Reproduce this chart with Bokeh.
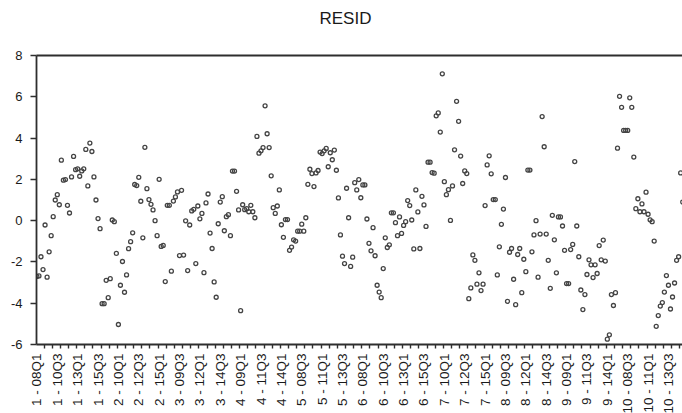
import math
from bokeh.plotting import figure
from bokeh.layouts import column
from bokeh.models import FixedTicker, LinearAxis, Range1d, ColumnDataSource
from bokeh.core.properties import value
from bokeh.embed import file_html
from bokeh.resources import INLINE

# Residuals by cross-section (id 1..10), quarterly 2008Q1..2015Q4
id1 = [-2.70, -2.68, -1.75, -2.37, -0.21, -2.74, -1.51, -0.73, 0.19, 1.00, 1.26, 0.77,
       2.93, 1.96, 1.99, 0.74, 0.37, 2.12, 3.11, 2.47, 2.51, 2.15, 2.41, 2.51,
       3.45, 1.68, 3.76, 3.35, 2.12, 1.00, 0.10, -0.39]
id2 = [-4.02, -4.02, -2.89, -3.73, -2.81, 0.03, -0.05, -1.59, -5.03, -3.13, -1.98, -3.47,
       -2.63, -1.36, -1.02, -0.59, 1.75, 1.70, 2.10, 0.94, -0.83, 3.55, 1.55, 1.02,
       0.79, 0.52, 0.00, -0.73, 2.00, -1.25, -1.20, -2.95]
id3 = [0.74, 0.74, -2.45, 0.95, 1.15, 1.39, -1.69, 1.47, -1.67, -0.01, -2.42, -0.21,
       0.47, 0.55, -2.08, 0.71, 0.09, 0.35, -2.52, 0.86, 1.29, -0.60, -1.35, -2.97,
       -3.71, -0.15, 0.90, 1.16, -0.49, 0.19, 0.29, -0.73]
id4 = [2.40, 2.40, 1.42, 0.52, -4.36, 0.77, 0.53, 0.58, 0.43, 0.74, 0.43, 0.14,
       4.08, 3.27, 3.38, 3.54, 5.56, 4.21, 3.54, 2.17, 0.63, 0.35, 0.71, 1.49,
       -0.20, -0.81, 0.05, 0.05, -1.44, -1.28, -0.93, -0.99]
id5 = [-0.51, -0.51, -0.17, -0.51, 0.14, 1.76, 2.49, 2.28, 1.65, 2.31, 2.43, 3.32,
       3.25, 3.38, 3.50, 2.61, 3.29, 2.95, 3.42, 2.44, 1.10, -0.69, -1.72, -2.08,
       1.57, 0.14, -2.22, -1.77, 1.84, 1.49, 1.99, 1.11]
id6 = [1.73, 1.73, 0.08, -1.10, -1.46, -0.34, -1.70, -3.13, -3.46, -3.73, -2.32, -0.83,
       -1.30, -1.17, 0.38, 0.38, -0.10, -0.73, 0.18, -0.62, -0.23, -0.05, 0.97, 0.73,
       0.03, -1.37, 1.49, 0.42, -1.35, 1.18, 0.76, -0.28]
id7 = [2.83, 2.83, 2.33, 2.30, 5.08, 5.22, 4.29, 7.11, 1.89, 1.26, 1.50, 0.01,
       1.68, 3.43, 5.78, 4.81, 3.13, 1.80, 2.41, 2.28, -3.78, -3.26, -1.66, -1.92,
       -3.08, -2.53, -3.39, -3.08, 0.73, 2.70, 3.14, 2.27]
id8 = [1.02, 1.02, -2.63, -1.27, -0.18, 0.56, 2.09, -3.91, -1.53, -1.35, -2.84, -4.07,
       -1.64, -1.35, -3.49, -1.87, -2.47, 2.45, 2.45, -1.51, -0.69, 0.00, -2.74, -0.65,
       5.04, 3.58, -0.65, -1.92, -3.28, 0.26, -0.93, -2.53]
id9 = [0.18, 0.18, -0.26, -1.44, -3.05, -3.05, -1.40, -1.15, 2.86, -0.26, -1.75, -3.36,
       -4.31, -3.58, -2.61, -1.90, -2.14, -2.76, -2.14, -2.56, -1.21, -1.90, -0.94, -1.96,
       -5.74, -5.53, -3.58, -4.11, -3.49, 3.51, 6.02, 5.49]
id10 = [4.37, 4.37, 4.37, 5.95, 5.49, 3.08, 0.58, 1.06, 0.43, 0.81, 0.43, 1.38,
        0.31, 0.04, -0.05, -0.99, -5.12, -4.60, -4.14, -3.97, -3.46, -2.66, -3.13, -4.28,
        -3.70, -3.02, -1.92, -1.75, 2.31, 0.90, -0.62]

tick_labels = ["1 - 08Q1", "1 - 10Q3", "1 - 13Q1", "1 - 15Q3", "2 - 10Q1", "2 - 12Q3",
               "2 - 15Q1", "3 - 09Q3", "3 - 12Q1", "3 - 14Q3", "4 - 09Q1", "4 - 11Q3",
               "4 - 14Q1", "5 - 08Q3", "5 - 11Q1", "5 - 13Q3", "6 - 08Q1", "6 - 10Q3",
               "6 - 13Q1", "6 - 15Q3", "7 - 10Q1", "7 - 12Q3", "7 - 15Q1", "8 - 09Q3",
               "8 - 12Q1", "8 - 14Q3", "9 - 09Q1", "9 - 11Q3", "9 - 14Q1", "10 - 08Q3",
               "10 - 11Q1", "10 - 13Q3"]
y_ticks = [-6, -4, -2, 0, 2, 4, 6, 8]

resid = id1 + id2 + id3 + id4 + id5 + id6 + id7 + id8 + id9 + id10
obs = list(range(len(resid)))
src = ColumnDataSource(dict(obs=obs, resid=resid))

FONT = "Liberation Sans"
AXC = "#2e2e2e"
TXT = "#1a1a1a"
W = 682
H_PLOT = 353
H_LAB = 413 - H_PLOT
LEFT = 36
X0, X1 = -0.2, 316.9

p = figure(width=W, height=H_PLOT, output_backend="svg", toolbar_location=None,
           x_range=Range1d(X0, X1), y_range=Range1d(-6, 8),
           min_border_left=LEFT, min_border_right=0, min_border_top=55,
           min_border_bottom=9)
p.outline_line_color = None
p.grid.visible = False
p.background_fill_color = "white"
p.border_fill_color = "white"

p.scatter("obs", "resid", source=src, marker="circle", size=4.0,
          fill_color=None, line_color="#444444", line_width=1.3)

label_pos = [10 * k for k in range(len(tick_labels))]
xa = p.xaxis[0]
xa.ticker = FixedTicker(ticks=label_pos, minor_ticks=[3.5 + 4 * k for k in range(80)])
xa.major_label_overrides = {pos: "" for pos in label_pos}
xa.major_label_text_font_size = "0px"
xa.major_label_standoff = 0
xa.major_tick_out = 0
xa.major_tick_in = 0
xa.minor_tick_out = 4
xa.minor_tick_in = 0
xa.minor_tick_line_color = AXC
xa.minor_tick_line_width = 1.4
xa.axis_line_color = AXC
xa.axis_line_width = 1.8

ya = p.yaxis[0]
ya.ticker = FixedTicker(ticks=y_ticks, minor_ticks=[])
ya.major_label_overrides = {v: str(v) for v in y_ticks}
ya.major_tick_out = 6
ya.major_tick_in = 0
ya.major_tick_line_color = AXC
ya.major_tick_line_width = 1.4
ya.minor_tick_out = 0
ya.minor_tick_in = 0
ya.axis_line_color = AXC
ya.axis_line_width = 1.8
ya.major_label_text_font = FONT
ya.major_label_text_font_size = "13px"
ya.major_label_text_color = TXT
ya.major_label_standoff = 8

# top frame line; its blank axis label only reserves room under the title
top = LinearAxis(ticker=FixedTicker(ticks=[], minor_ticks=[]),
                 axis_line_color=AXC, axis_line_width=1.8,
                 major_tick_out=0, major_tick_in=0, minor_tick_out=0, minor_tick_in=0,
                 major_label_standoff=0, major_label_text_font_size="0px",
                 axis_label=" ", axis_label_text_font_size="14px",
                 axis_label_standoff=4)
p.add_layout(top, "above")

p.title.text = "RESID"
p.title.align = "left"
p.title.offset = 283
p.title.text_font = FONT
p.title.text_font_size = "17px"
p.title.text_font_style = "normal"
p.title.text_color = TXT
p.title.standoff = 10

# strip beneath the plot holding the rotated observation labels
q = figure(width=W, height=H_LAB, output_backend="svg", toolbar_location=None,
           x_range=p.x_range, y_range=Range1d(-H_LAB, 0),
           x_axis_type=None, y_axis_type=None,
           min_border_left=0, min_border_right=0, min_border_top=0,
           min_border_bottom=0)
if "frame_align" in q.properties():
    # frame not aligned with the plot above: widen its range to keep the same scale
    q.frame_align = False
    x_per_px = (X1 - X0) / (W - LEFT)
    q.x_range = Range1d(X0 - LEFT * x_per_px, X1)
else:
    q.min_border_left = LEFT
q.outline_line_color = None
q.grid.visible = False
q.background_fill_color = "white"
q.border_fill_color = "white"
lab_src = ColumnDataSource(dict(x=label_pos, y=[0] * len(label_pos), text=tick_labels))
q.text(x="x", y="y", text="text", source=lab_src, angle=math.pi / 2,
       text_align="right", text_baseline="middle",
       text_font=value(FONT), text_font_size=value("13.5px"), text_color=TXT)

layout = column(p, q, spacing=0)
open("out.html", "w").write(file_html(layout, INLINE))
